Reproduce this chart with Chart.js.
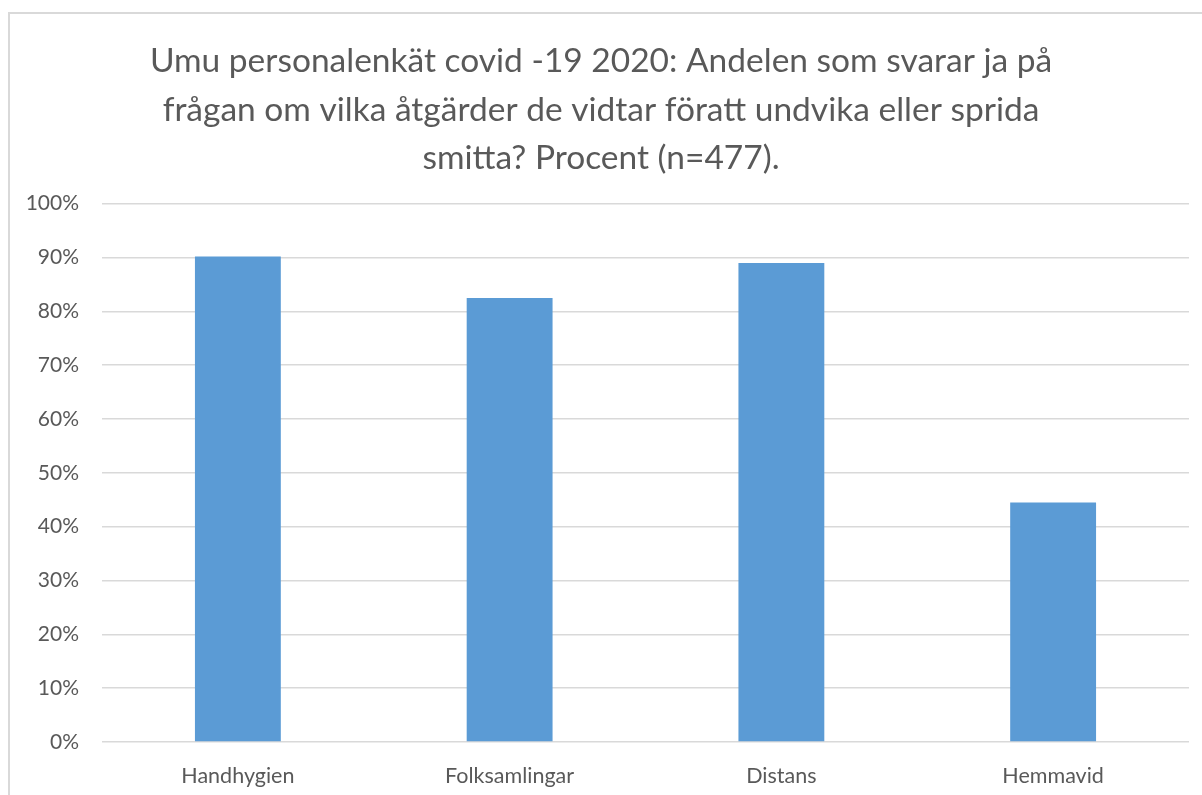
<!DOCTYPE html>
<html lang="sv">
<head>
  <meta charset="UTF-8" />
  <title>Umu personalenkät covid-19 2020</title>
  <script src="https://cdn.jsdelivr.net/npm/chart.js"></script>
  <style>
    body {
      margin: 0;
      background: #ffffff;
      overflow: hidden;
    }
    .wrap {
      position: relative;
      width: 1202px;
      height: 795px;
    }
    .frame {
      position: absolute;
      left: 8px;
      top: 12px;
      right: 0;
      bottom: 0;
      border-left: 2px solid #d9d9d9;
      border-top: 2px solid #d9d9d9;
    }
  </style>
</head>
<body>

<div class="wrap">
  <div class="frame"></div>
  <canvas id="chart" width="1202" height="795"></canvas>
</div>

<script>
  // Data
  const categories = ['Handhygien', 'Folksamlingar', 'Distans', 'Hemmavid'];
  const andelJa = [90.2, 82.5, 89.0, 44.5];
  const titleLines = [
    'Umu personalenkät covid -19 2020: Andelen som svarar ja på',
    'frågan om vilka åtgärder de vidtar föratt undvika eller sprida',
    'smitta? Procent (n=477).'
  ];

  const textColor = '#595959';
  const gridColor = '#d9d9d9';

  const ctx = document.getElementById('chart').getContext('2d');
  new Chart(ctx, {
    type: 'bar',
    data: {
      labels: categories,
      datasets: [{
        label: 'Andel ja',
        data: andelJa,
        backgroundColor: '#5b9bd5',
        barPercentage: 0.316,
        categoryPercentage: 1
      }]
    },
    options: {
      responsive: false,
      animation: false,
      layout: {
        padding: { left: 13, right: 13, top: 0, bottom: 0 }
      },
      plugins: {
        legend: { display: false },
        tooltip: { enabled: false },
        title: {
          display: true,
          text: titleLines,
          color: textColor,
          font: { family: 'Lato', size: 33.5, weight: 'normal', lineHeight: 1.44 },
          padding: { top: 37.5, bottom: 21.5 }
        }
      },
      scales: {
        x: {
          grid: { display: false, drawTicks: false },
          border: { display: false },
          ticks: {
            color: textColor,
            padding: 21,
            font: { family: 'Lato', size: 21.5 }
          },
          afterFit: (scale) => { scale.height = 53; }
        },
        y: {
          min: 0,
          max: 100,
          grid: { color: gridColor, lineWidth: 1.5, drawTicks: false },
          border: { display: false },
          ticks: {
            stepSize: 10,
            color: textColor,
            padding: 23,
            font: { family: 'Lato', size: 21 },
            callback: (v) => v + '%'
          },
          afterFit: (scale) => { scale.width = 89; }
        }
      }
    }
  });
</script>

</body>
</html>
